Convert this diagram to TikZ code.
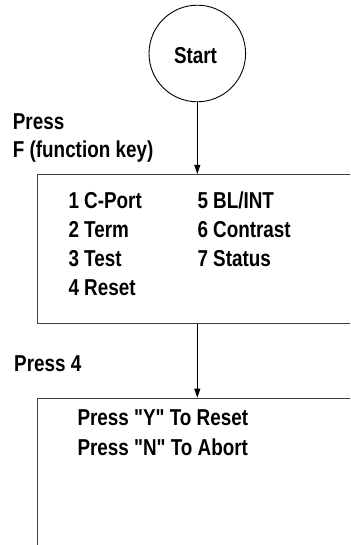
\documentclass[tikz,border=0pt]{standalone}
\usepackage{fontspec}
\newfontfamily\lab{Liberation Sans}[FakeStretch=0.82]
\usetikzlibrary{arrows.meta}
\begin{document}
\begin{tikzpicture}[x=1pt,y=-1pt,
  tx/.style={anchor=base west,inner sep=0pt,font=\lab\bfseries\fontsize{23}{27}\selectfont},
  boxline/.style={draw=black!75,line width=1pt},
  arr/.style={draw=black,line width=0.9pt,-{Triangle[length=9pt,width=6pt]}}]
\useasboundingbox (0,0) rectangle (350,545);
\clip (0,0) rectangle (350,545);
\fill[white] (0,0) rectangle (350,545);
% start circle
\node[draw=black,line width=0.9pt,circle,minimum size=96.6pt,inner sep=0pt] (start) at (197.3,53.5) {};
\node[tx,anchor=base] (starttxt) at (195.5,63.8) {Start};
% box 1 (open to the right)
\node[boxline,rectangle,minimum width=323.3pt,minimum height=149.3pt,inner sep=0pt,anchor=north west] (box1) at (36.7,174) {};
% box 2 (open to the right and bottom)
\node[boxline,rectangle,minimum width=323.3pt,minimum height=170pt,inner sep=0pt,anchor=north west] (box2) at (36.7,397.7) {};
% labels
\node[tx] (p1) at (12.7,129.3) {Press};
\node[tx] (p2) at (12.7,157.7) {F (function key)};
\node[tx] (m1) at (68.3,208.5) {1 C-Port};
\node[tx] (m2) at (68.3,237.6) {2 Term};
\node[tx] (m3) at (68.3,266.6) {3 Test};
\node[tx] (m4) at (68.3,295.7) {4 Reset};
\node[tx] (m5) at (197.3,208.5) {5 BL/INT};
\node[tx] (m6) at (197.3,237.6) {6 Contrast};
\node[tx] (m7) at (197.3,266.6) {7 Status};
\node[tx] (p4) at (14,371.7) {Press 4};
\node[tx] (y1) at (77.3,425.7) {Press "Y" To Reset};
\node[tx] (n1) at (77.3,455.7) {Press "N" To Abort};
% connectors
\draw[arr] (start.south) -- (start.south |- box1.north);
\draw[arr] (start.south |- box1.south) -- (start.south |- box2.north);
\end{tikzpicture}
\end{document}
